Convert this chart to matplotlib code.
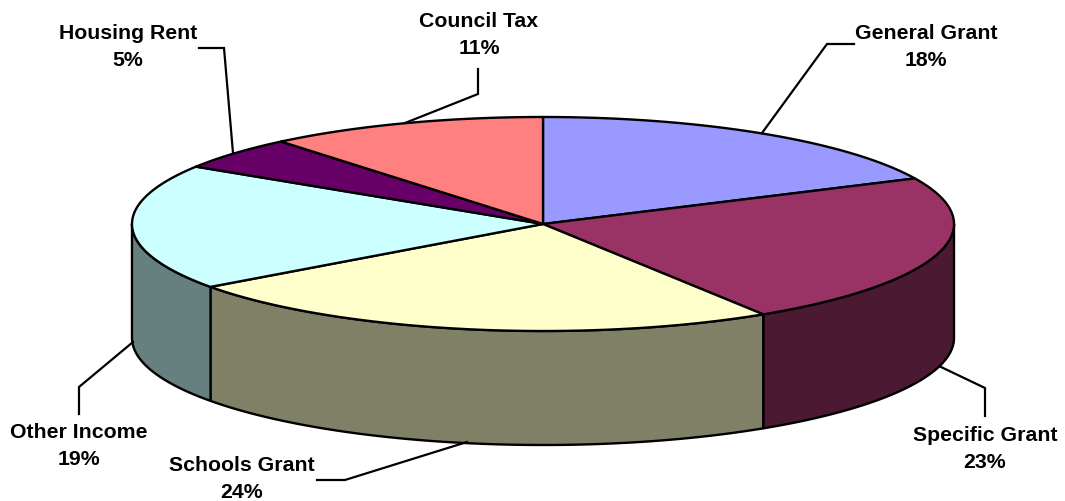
import numpy as np
import matplotlib
matplotlib.use("Agg")
import matplotlib.pyplot as plt

# ---------------------------------------------------
# Data
# ---------------------------------------------------
categories = ["General Grant", "Specific Grant", "Schools Grant",
              "Other Income", "Housing Rent", "Council Tax"]
shares = [18, 23, 24, 19, 5, 11]

top_colors = ["#9999FF", "#993366", "#FFFFCC", "#CCFFFF", "#660066", "#FF8080"]
side_colors = ["#4C4C80", "#4C1933", "#808066", "#668080", "#330033", "#804040"]

# ---------------------------------------------------
# Layout, in pixels of the 1065x502 picture
# ---------------------------------------------------
cx, cy = 543, 225
rx, ry = 411, 107
depth = 114

label_pos = [(926, 47), (985, 449), (242, 479), (79, 446), (128, 47), (479, 35)]
leaders = [
    [(854, 45), (827, 45), (762, 134)],
    [(941, 368), (985, 389), (985, 417)],
    [(467, 443), (345, 481), (317, 481)],
    [(133, 343), (79, 388), (79, 415)],
    [(199, 49), (224, 49), (233, 154)],
    [(478, 70), (478, 95), (405, 124)],
]


def rim(angle_deg):
    # angle is clockwise from 12 o'clock, as in the pie
    a = np.radians(angle_deg)
    return cx + rx * np.sin(a), cy - ry * np.cos(a)


fig = plt.figure(figsize=(10.65, 5.02), dpi=100)
ax = fig.add_axes([0, 0, 1, 1])
ax.set_xlim(0, 1065)
ax.set_ylim(502, 0)
ax.axis("off")

edges = np.cumsum([0] + shares) * 360.0 / sum(shares)

# ---------------------------------------------------
# Side wall, only the front half of the rim shows
# ---------------------------------------------------
for i in range(len(shares)):
    a0 = max(edges[i], 90)
    a1 = min(edges[i + 1], 270)
    if a1 <= a0:
        continue
    x, y = rim(np.linspace(a0, a1, 100))
    ax.fill(np.r_[x, x[::-1]], np.r_[y, y[::-1] + depth],
            facecolor=side_colors[i], edgecolor="black", linewidth=1.7,
            joinstyle="round", zorder=2)

# ---------------------------------------------------
# Top face
# ---------------------------------------------------
for i in range(len(shares)):
    x, y = rim(np.linspace(edges[i], edges[i + 1], 200))
    ax.fill(np.r_[cx, x], np.r_[cy, y],
            facecolor=top_colors[i], edgecolor="black", linewidth=1.7,
            joinstyle="round", zorder=3)

# ---------------------------------------------------
# Labels and leader lines
# ---------------------------------------------------
for name, share, pos, line in zip(categories, shares, label_pos, leaders):
    ax.text(pos[0], pos[1], f"{name}\n{share}%", ha="center", va="center",
            family="Liberation Sans", fontweight="bold", fontsize=15.3,
            linespacing=1.58, color="black", zorder=5)
    ax.plot([p[0] for p in line], [p[1] for p in line], color="black",
            linewidth=1.6, solid_joinstyle="miter", zorder=4)

fig.savefig("out.png", dpi=100, facecolor="white")
